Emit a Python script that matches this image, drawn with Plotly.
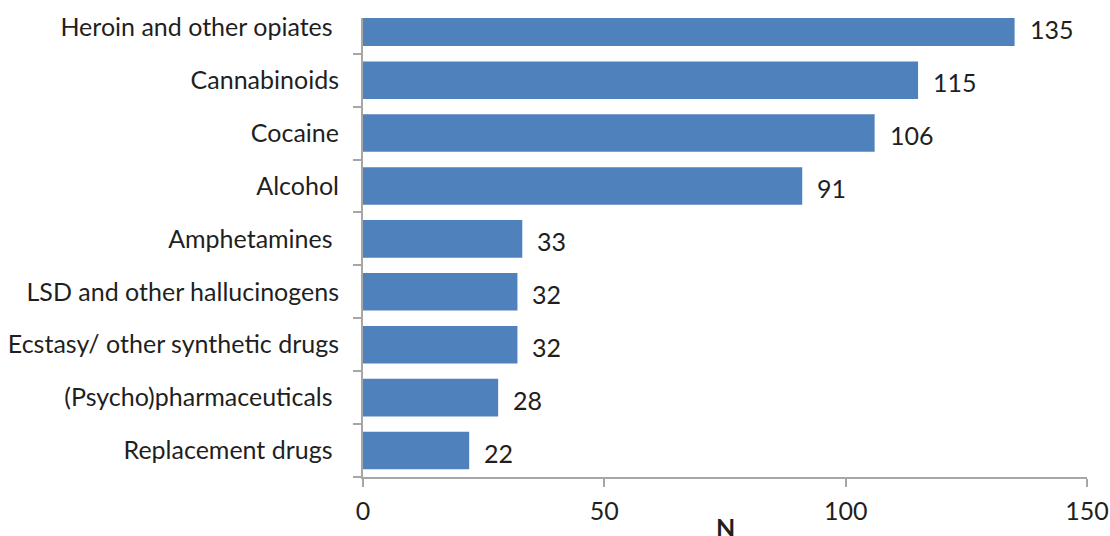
import plotly.graph_objects as go

# Substances, listed top to bottom as shown on the chart
substances = [
    "Heroin and other opiates\u00a0",
    "Cannabinoids",
    "Cocaine",
    "Alcohol",
    "Amphetamines\u00a0",
    "LSD and other hallucinogens",
    "Ecstasy/ other synthetic drugs",
    "(Psycho)pharmaceuticals\u00a0",
    "Replacement drugs\u00a0",
]
counts = [135, 115, 106, 91, 33, 32, 32, 28, 22]

x_ticks = [0, 50, 100, 150]
x_title = "N"

# Plot bottom-up so the first substance ends up on top
cats = substances[::-1]
vals = counts[::-1]

BAR = "#4F81BD"
AXIS = "#A6A6A6"
FONT = "Lato"
TEXT = "#1f1f1f"
SIZE = 25

fig = go.Figure()
fig.add_trace(go.Bar(
    x=vals, y=cats, orientation="h",
    marker=dict(color=BAR, line=dict(width=0)),
    hoverinfo="skip",
))

for v, c in zip(vals, cats):
    fig.add_annotation(
        x=v, y=c, text=str(v), showarrow=False,
        xanchor="left", yanchor="middle", xshift=13, yshift=-2,
        font=dict(family=FONT, size=SIZE, color=TEXT),
    )

# Axis title sits low, close to the bottom edge
fig.add_annotation(
    x=0.5, y=0, xref="paper", yref="paper",
    text=f"<b>{x_title}</b>", showarrow=False,
    xanchor="center", yanchor="top", yshift=-33,
    font=dict(family=FONT, size=SIZE, color=TEXT),
)

fig.update_layout(
    width=1110, height=536,
    margin=dict(l=363, r=23, t=18, b=59),
    paper_bgcolor="white", plot_bgcolor="white",
    bargap=0.29,
    showlegend=False,
    font=dict(family=FONT, size=SIZE, color=TEXT),
)
fig.update_xaxes(
    range=[0, 150], tickvals=x_ticks, automargin=False,
    showgrid=False, zeroline=False,
    showline=True, linecolor=AXIS, linewidth=2,
    ticks="outside", ticklen=8, tickcolor=AXIS, tickwidth=1.5,
    ticklabelstandoff=3,
    tickfont=dict(family=FONT, size=SIZE, color=TEXT),
)
fig.update_yaxes(
    type="category", categoryorder="array", categoryarray=cats,
    range=[-0.5, 8.175], automargin=False,
    showgrid=False, zeroline=False,
    showline=True, linecolor=AXIS, linewidth=2,
    ticks="outside", ticklen=8, tickcolor=AXIS, tickwidth=1.5,
    tickson="boundaries", ticklabelstandoff=17,
    tickfont=dict(family=FONT, size=SIZE, color=TEXT),
)

fig.write_html("out.html")
